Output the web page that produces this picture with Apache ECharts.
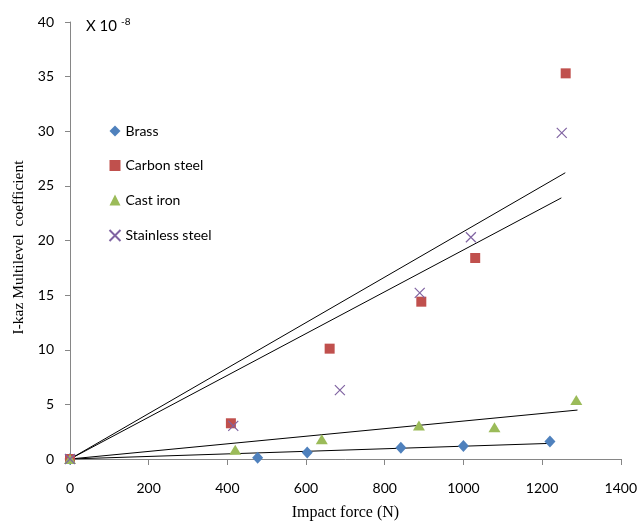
<!DOCTYPE html>
<html><head><meta charset="utf-8">
<script src="https://cdn.jsdelivr.net/npm/echarts@6/dist/echarts.min.js"></script>
<style>html,body{margin:0;padding:0;background:#fff}#c{width:640px;height:526px}</style>
</head><body><div id="c"></div>
<script>
const brass = [[0,0],[477,0.12],[603,0.6],[841,1.03],[1000,1.2],[1220,1.6]];
const carbon = [[0,0],[409,3.27],[660,10.1],[893,14.4],[1030,18.4],[1260,35.3]];
const castIron = [[0,0],[420,0.85],[640,1.8],[887,3.06],[1079,2.9],[1287,5.4]];
const stainless = [[0,0],[415,3.03],[686,6.3],[889,15.2],[1019,20.3],[1250,29.85]];
// trend lines (start, end)
const trendBrass = [[0,0],[1220,1.43]];
const trendCarbon = [[0,0],[1259,26.2]];
const trendCast = [[0,0],[1290,4.48]];
const trendStainless = [[0,0],[1249,23.9]];
const names = ['Brass','Carbon steel','Cast iron','Stainless steel'];
const xTitle = 'Impact force (N)';
const yTitle = 'I-kaz Multilevel  coefficient';

const chart = echarts.init(document.getElementById('c'), null, {renderer:'canvas'});
const axisGray = '#868686';
const sans = 'Lato, "Open Sans", sans-serif';
const lab = {color:'#000', fontFamily:sans, fontSize:14};
function trend(d){return {type:'line', data:d, symbol:'none', silent:true, lineStyle:{color:'#000', width:1}, z:3, animation:false};}
chart.setOption({
  animation:false,
  grid:{left:70, right:17, top:22, bottom:64},
  xAxis:{type:'value', min:0, max:1400, interval:200,
    axisLine:{show:true, lineStyle:{color:axisGray}},
    axisTick:{show:true, length:6, lineStyle:{color:axisGray}},
    splitLine:{show:false},
    axisLabel:Object.assign({margin:22, formatter:v=>String(v)}, lab),
    name:xTitle, nameLocation:'middle', nameGap:46,
    nameTextStyle:{fontFamily:'"Liberation Serif", serif', fontSize:16, color:'#000'}},
  yAxis:{type:'value', min:0, max:40, interval:5,
    axisLine:{show:true, lineStyle:{color:axisGray}},
    axisTick:{show:true, length:5, lineStyle:{color:axisGray}},
    splitLine:{show:false},
    axisLabel:Object.assign({margin:16}, lab)},
  legend:{orient:'vertical', left:102, top:119, itemGap:20.5, itemWidth:11, itemHeight:11,
    data:names, textStyle:{fontFamily:sans, fontSize:14, color:'#000'}},
  graphic:[
    {type:'text', left:86, top:19, style:{text:'X 10', font:'15px ' + sans, fill:'#000'}},
    {type:'text', left:121, top:17, style:{text:'-8', font:'10px ' + sans, fill:'#000'}},
    {type:'text', x:19, y:247.5, rotation:Math.PI/2,
      style:{text:yTitle, font:'15.5px "Liberation Serif", serif', fill:'#000', align:'center', verticalAlign:'middle'}}
  ],
  series:[
    trend(trendBrass), trend(trendCarbon), trend(trendCast), trend(trendStainless),
    {name:'Brass', type:'scatter', data:brass, symbol:'diamond', symbolSize:[11,12], itemStyle:{color:'#4F81BD', opacity:1}, z:4},
    {name:'Carbon steel', type:'scatter', data:carbon, symbol:'rect', symbolSize:10, itemStyle:{color:'#C0504D', opacity:1}, z:4},
    {name:'Cast iron', type:'scatter', data:castIron, symbol:'triangle', symbolSize:[12,10], itemStyle:{color:'#9BBB59', opacity:1}, z:4},
    {name:'Stainless steel', type:'scatter', data:stainless, symbol:'path://M0,0L10,10M10,0L0,10', symbolSize:10,
      itemStyle:{color:'none', borderColor:'#8064A2', borderWidth:1.2, opacity:1}, z:4}
  ]
});
</script></body></html>
